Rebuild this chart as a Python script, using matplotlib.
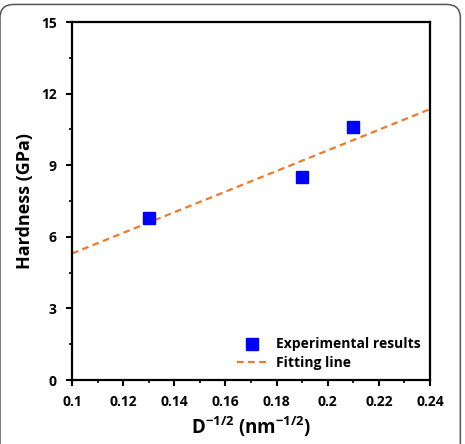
import matplotlib
matplotlib.use("Agg")
import matplotlib.pyplot as plt
from matplotlib.patches import FancyBboxPatch
from matplotlib.ticker import MultipleLocator
import numpy as np

x_exp = [0.13, 0.19, 0.21]
y_exp = [6.8, 8.5, 10.6]
fit_x = [0.10, 0.24]
fit_y = [5.3, 11.35]
xticks = [0.1, 0.12, 0.14, 0.16, 0.18, 0.2, 0.22, 0.24]
xticklabels = ["0.1", "0.12", "0.14", "0.16", "0.18", "0.2", "0.22", "0.24"]
yticks = [0, 3, 6, 9, 12, 15]

plt.rcParams['font.family'] = ['Open Sans', 'DejaVu Sans']
plt.rcParams['font.weight'] = 'bold'
plt.rcParams['mathtext.fontset'] = 'custom'
plt.rcParams['mathtext.rm'] = 'Open Sans:bold'
plt.rcParams['mathtext.bf'] = 'Open Sans:bold'
plt.rcParams['mathtext.it'] = 'Open Sans:bold'

fig = plt.figure(figsize=(4.65, 4.44), dpi=100)
frame = FancyBboxPatch((0.0, -0.2), 0.99, 1.19, transform=fig.transFigure,
                       boxstyle="round,pad=0,rounding_size=0.03", fc="none",
                       ec="#555555", lw=1.1, clip_on=False)
fig.patches.append(frame)

ax = fig.add_axes([0.1548, 0.1441, 0.770, 0.8063])
ax.plot(fit_x, fit_y, linestyle=(0, (3, 2)), color="#F07A2A", lw=1.6, label="Fitting line", zorder=2)
ax.plot(x_exp, y_exp, linestyle="none", marker="s", ms=9, color="#0000FF", mec="#0000FF",
        label="Experimental results", zorder=3)

ax.set_xlim(0.1, 0.24)
ax.set_ylim(0, 15)
ax.set_xticks(xticks)
ax.set_xticklabels(xticklabels)
ax.set_yticks(yticks)
ax.xaxis.set_minor_locator(MultipleLocator(0.01))
ax.yaxis.set_minor_locator(MultipleLocator(1.5))
ax.tick_params(which="major", direction="out", length=4, width=1.5, labelsize=10)
ax.tick_params(axis="x", which="major", pad=7)
ax.tick_params(axis="y", which="major", pad=7)
ax.tick_params(which="minor", direction="out", length=2.5, width=1.2)
for s in ax.spines.values():
    s.set_linewidth(1.6)
for lab in ax.get_xticklabels() + ax.get_yticklabels():
    lab.set_fontweight("bold")

ax.set_xlabel(r"D$^{\mathrm{-1/2}}$ (nm$^{\mathrm{-1/2}}$)", fontsize=13.5, fontweight="bold", labelpad=4)
ax.set_ylabel("Hardness (GPa)", fontsize=13, fontweight="bold", labelpad=5)

h, l = ax.get_legend_handles_labels()
ax.legend(h[::-1], l[::-1], loc="lower right", frameon=False,
          handlelength=2.2, handletextpad=0.6, borderaxespad=0.3, labelspacing=0.35,
          prop={"weight": "bold", "size": 10})

fig.savefig("out.png", dpi=100)
